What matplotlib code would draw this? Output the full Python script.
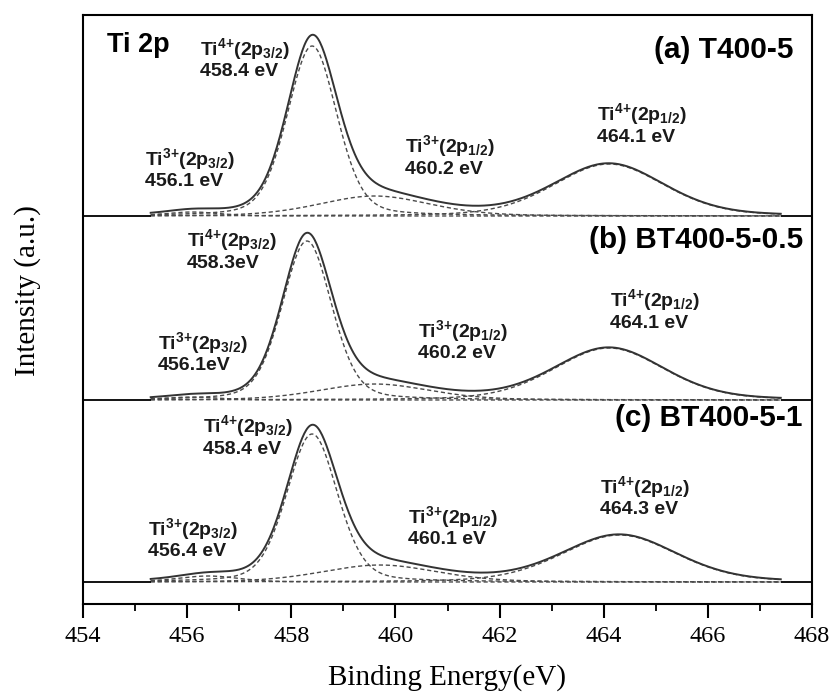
import numpy as np
import matplotlib
matplotlib.use("Agg")
import matplotlib.pyplot as plt

# Konstanten für Plot-Anpassungen
FIG_SIZE = (8.35, 6.98)
DPI = 100
ENVELOPE_COLOR = '#333333'
COMPONENT_COLOR = '#4a4a4a'
SANS = 'Liberation Sans'
SERIF = 'Liberation Serif'
ANNOT_SIZE = 14
NAME_SIZE = 21.5

# Energiebereich der Messung (eV)
E_START = 455.3
E_END = 467.4

# Komponenten: Ti3+(2p3/2), Ti4+(2p3/2), Ti3+(2p1/2), Ti4+(2p1/2)
# Mittelpunkt (eV), Höhe (rel.), Halbwertsbreite (eV)
centers_a = [456.1, 458.4, 459.6, 464.1]
heights_a = [4, 170, 20, 52]
fwhm_a = [1.2, 1.12, 2.5, 2.5]

centers_b = [456.1, 458.3, 459.6, 464.1]
heights_b = [3, 159, 16, 52]
fwhm_b = [1.2, 1.12, 2.5, 2.5]

centers_c = [456.4, 458.4, 459.7, 464.3]
heights_c = [6, 148, 17, 47]
fwhm_c = [1.4, 1.15, 2.6, 2.6]

# Beschriftungen
panel_names = ['(a) T400-5', '(b) BT400-5-0.5', '(c) BT400-5-1']
species = ['Ti$^{3{+}}$(2p$_{3/2}$)', 'Ti$^{4{+}}$(2p$_{3/2}$)',
           'Ti$^{3{+}}$(2p$_{1/2}$)', 'Ti$^{4{+}}$(2p$_{1/2}$)']
energies_a = ['456.1 eV', '458.4 eV', '460.2 eV', '464.1 eV']
energies_b = ['456.1eV', '458.3eV', '460.2 eV', '464.1 eV']
energies_c = ['456.4 eV', '458.4 eV', '460.1 eV', '464.3 eV']
x_ticks = [454, 456, 458, 460, 462, 464, 466, 468]

# Layout (Achsen-Einheiten): Basislinien und Textpositionen
BASELINES = [388, 204, 22]
LABEL_POS = [
    [(455.19, 445), (456.25, 555), (460.18, 458), (463.87, 490)],
    [(455.44, 261), (456.00, 364), (460.43, 273), (464.12, 304)],
    [(455.25, 75), (456.30, 178), (460.24, 87), (463.93, 117)],
]
LINE_GAP = 23
NAME_POS = [(467.64, 554), (467.83, 364), (467.81, 186)]


def pseudo_voigt(x, center, height, fwhm, eta=0.25):
    """Gauss-Lorentz-Mischprofil einer Fit-Komponente."""
    g = np.exp(-4 * np.log(2) * ((x - center) / fwhm) ** 2)
    l = 1.0 / (1.0 + (2 * (x - center) / fwhm) ** 2)
    return height * ((1 - eta) * g + eta * l)


def plot_panel(ax, energy, centers, heights, widths, base):
    comps = [pseudo_voigt(energy, c, h, w) for c, h, w in zip(centers, heights, widths)]
    for comp in comps:
        ax.plot(energy, base + comp, ls=(0, (3, 2)), color=COMPONENT_COLOR, lw=1.0)
    ax.plot(energy, base + np.sum(comps, axis=0), color=ENVELOPE_COLOR, lw=1.4)
    # Trennlinien außerhalb des Messbereichs
    ax.hlines(base, x_ticks[0], E_START, color='black', lw=1.3)
    ax.hlines(base, E_END, x_ticks[-1], color='black', lw=1.3)


def main():
    plt.rcParams['mathtext.fontset'] = 'custom'
    plt.rcParams['mathtext.default'] = 'rm'
    plt.rcParams['mathtext.rm'] = SANS + ':bold'
    plt.rcParams['mathtext.it'] = SANS + ':italic:bold'
    plt.rcParams['mathtext.bf'] = SANS + ':bold'

    fig = plt.figure(figsize=FIG_SIZE, dpi=DPI)
    ax = fig.add_axes([83 / 835, 94 / 698, 729 / 835, 589 / 698])

    energy = np.linspace(E_START, E_END, 600)
    params = [(centers_a, heights_a, fwhm_a),
              (centers_b, heights_b, fwhm_b),
              (centers_c, heights_c, fwhm_c)]
    energies = [energies_a, energies_b, energies_c]

    for i, (c, h, w) in enumerate(params):
        base = BASELINES[i]
        plot_panel(ax, energy, c, h, w, base)
        for k in range(4):
            x, y = LABEL_POS[i][k]
            ax.text(x, y, species[k], family=SANS, fontsize=ANNOT_SIZE,
                    fontweight='bold', va='center', ha='left', color='#1a1a1a')
            ax.text(x, y - LINE_GAP, energies[i][k], family=SANS,
                    fontsize=ANNOT_SIZE, fontweight='bold', va='center',
                    ha='left', color='#1a1a1a')
        nx, ny = NAME_POS[i]
        ax.text(nx, ny, panel_names[i], family=SANS, fontsize=NAME_SIZE,
                fontweight='bold', va='center', ha='right')

    ax.text(454.46, 559, 'Ti 2p', family=SANS, fontsize=19.5,
            fontweight='bold', va='center', ha='left')

    ax.set_xlim(x_ticks[0], x_ticks[-1])
    ax.set_ylim(0, 589)
    ax.set_xticks(x_ticks)
    ax.set_xticks(np.arange(455, 468, 2), minor=True)
    ax.set_yticks([])
    ax.tick_params(axis='x', which='major', direction='out', length=10,
                   width=1.5, pad=6, labelsize=17.5)
    ax.tick_params(axis='x', which='minor', direction='out', length=5, width=1.3)
    for lab in ax.get_xticklabels():
        lab.set_family(SERIF)
    for sp in ax.spines.values():
        sp.set_linewidth(1.5)

    ax.set_xlabel('Binding Energy(eV)', family=SERIF, fontsize=21, labelpad=12)
    fig.text(28 / 835, 1 - 291 / 698, 'Intensity (a.u.)', family=SERIF,
             fontsize=21, rotation=90, ha='center', va='center')

    fig.savefig('out.png', dpi=DPI)


if __name__ == "__main__":
    main()
